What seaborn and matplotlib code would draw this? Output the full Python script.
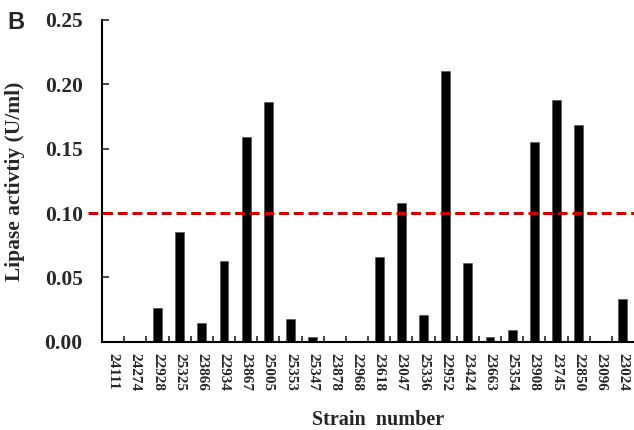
import numpy as np
import pandas as pd
import matplotlib
matplotlib.use('Agg')
import matplotlib.pyplot as plt
import seaborn as sns

# 菌株编号与脂肪酶活性 (U/ml)
strains = ['24111', '24274', '22928', '25325', '23866', '22934', '23867', '25005',
           '25353', '25347', '23878', '22968', '23618', '23047', '25336', '22952',
           '23424', '23663', '25354', '23908', '23745', '22850', '23096', '23024']
activity = [-0.001, -0.001, 0.026, 0.085, 0.015, 0.063, 0.159, 0.186,
            0.018, 0.004, -0.001, 0.001, 0.066, 0.108, 0.021, 0.210,
            0.061, 0.004, 0.009, 0.155, 0.188, 0.168, -0.001, 0.033]
threshold = 0.10
y_ticks = [0.00, 0.05, 0.10, 0.15, 0.20, 0.25]

sns.set_style('white')
plt.rcParams['font.family'] = ['Liberation Serif', 'DejaVu Serif']
plt.rcParams['font.weight'] = 'bold'

data = pd.DataFrame({'strain': strains, 'activity': activity})

fig = plt.figure(figsize=(6.34, 4.30), dpi=100)
ax = fig.add_axes([0.161, 0.205, 0.839, 0.749])

sns.barplot(data=data, x='strain', y='activity', order=strains, color='black',
            saturation=1, width=0.4, edgecolor='#555555', linewidth=0.5, ax=ax)

ax.axhline(threshold, xmin=-0.027, xmax=1, color='#cc0000', lw=2.2,
           dashes=(3.2, 1.6), clip_on=False, zorder=5)

ax.set_xlim(-0.5, len(strains) - 0.5)
ax.set_ylim(0, 0.25)
ax.set_yticks(y_ticks)
ax.set_yticklabels([f'{t:.2f}' for t in y_ticks], fontsize=15.5, fontweight='bold')
ax.set_xticks(range(len(strains)))
ax.set_xticklabels(strains, rotation=-90, fontsize=11, fontweight='bold')
ax.set_xticks(np.arange(0.5, len(strains) - 0.5, 1), minor=True)

ax.tick_params(axis='x', which='major', length=0, pad=8)
ax.tick_params(axis='x', which='minor', direction='in', length=4, width=1.2,
               bottom=True)
ax.tick_params(axis='y', direction='in', length=5, width=1.2, left=True, pad=14)

sns.despine(ax=ax)
for s in ['left', 'bottom']:
    ax.spines[s].set_linewidth(1.5)
    ax.spines[s].set_color('black')

ax.set_xlabel('Strain  number', fontsize=14.5, fontweight='bold', va='baseline')
ax.xaxis.set_label_coords(0.519, -0.258)
ax.set_ylabel('Lipase activtiy (U/ml)', fontsize=15.5, fontweight='bold', va='center')
ax.yaxis.set_label_coords(-0.163, 0.5)

fig.text(0.012, 0.975, 'B', fontsize=17, fontweight='bold', va='top', ha='left',
         family=['Liberation Sans', 'DejaVu Sans'])

fig.savefig('out.png', dpi=100)
